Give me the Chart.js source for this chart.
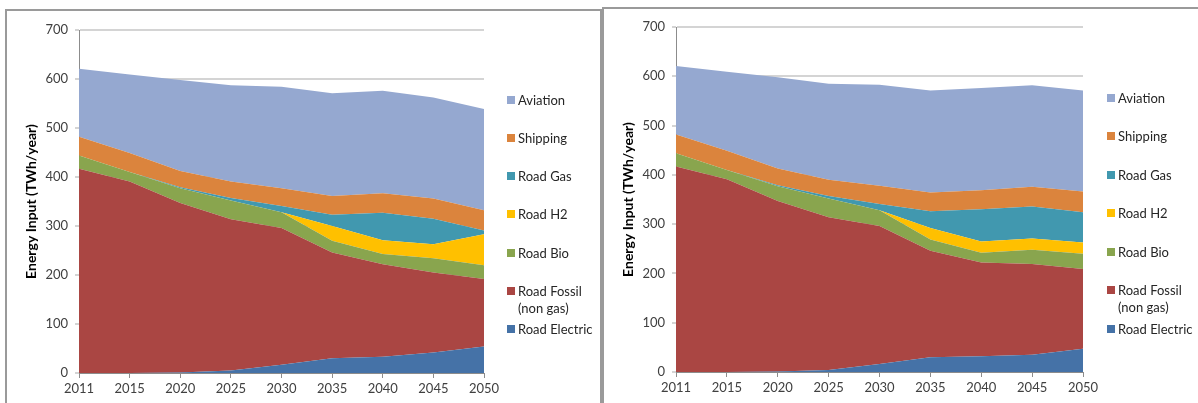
<!DOCTYPE html>
<html>
<head>
<meta charset="utf-8">
<script src="https://cdn.jsdelivr.net/npm/chart.js@4"></script>
<style>
    body { margin: 0; background: #fff; width: 1198px; height: 403px; overflow: hidden; position: relative; font-family: Lato, "Liberation Sans", sans-serif; }
    .panel { position: absolute; border: 2px solid #9a9a9a; border-bottom: none; box-sizing: border-box; }
    .wrap { position: absolute; }
    .legend { position: absolute; font-size: 13px; color: #262626; }
    .legend .item { position: absolute; left: 0; white-space: pre; line-height: 17px; }
    .legend .box { position: absolute; width: 8px; height: 8px; left: -11px; top: 4px; }
</style>
</head>
<body>
<div class="panel" style="left:5px; top:9px; width:597px; height:400px;"></div>
<div class="panel" style="left:602px; top:7px; width:610px; height:400px;"></div>
<div class="wrap" style="left:6px; top:9px; width:594px; height:394px;"><canvas id="chartLeft"></canvas></div>
<div class="wrap" style="left:603px; top:7px; width:595px; height:396px;"><canvas id="chartRight"></canvas></div>
<div class="legend" id="legendLeft" style="left:518px; top:0;"></div>
<div class="legend" id="legendRight" style="left:1118px; top:0;"></div>
<script>
// Categories
const years = ['2011', '2015', '2020', '2025', '2030', '2035', '2040', '2045', '2050'];

// Series, bottom of the stack first
const seriesNames = ['Road Electric', 'Road Fossil\n(non gas)', 'Road Bio', 'Road H2', 'Road Gas', 'Shipping', 'Aviation'];
const seriesColors = ['#4572A7', '#AA4643', '#89A54E', '#FFC000', '#4198AF', '#DB843D', '#95A8D0'];

// Left chart (TWh/year)
const leftElectric = [0, 0, 1, 5, 17, 30, 33, 42, 54];
const leftFossil   = [417, 391, 346, 309, 279, 216, 189, 163, 138];
const leftBio      = [27, 19, 30, 38, 32, 24, 21, 29, 28];
const leftH2       = [0, 0, 0, 0, 0, 30, 28, 29, 63];
const leftGas      = [0, 0, 2, 5, 13, 23, 56, 52, 8];
const leftShipping = [38, 39, 33, 34, 36, 38, 40, 41, 41];
const leftAviation = [139, 160, 186, 196, 207, 210, 209, 206, 207];

// Right chart (TWh/year)
const rightElectric = [0, 0, 1, 4, 16, 30, 32, 35, 47];
const rightFossil   = [417, 391, 346, 310, 280, 216, 190, 184, 162];
const rightBio      = [27, 19, 30, 38, 32, 23, 20, 29, 31];
const rightH2       = [0, 0, 0, 0, 0, 23, 23, 23, 23];
const rightGas      = [0, 0, 2, 5, 13, 34, 65, 65, 61];
const rightShipping = [38, 39, 34, 33, 37, 38, 39, 40, 42];
const rightAviation = [139, 160, 185, 195, 205, 207, 207, 206, 205];

const yTicksMax = 700;
const yTickStep = 100;

const tickFont = { family: 'Lato, "Liberation Sans", sans-serif', size: 13 };

function makeDatasets(series) {
    return series.map((values, i) => ({
        label: seriesNames[i].replace('\n', ' '),
        data: values,
        backgroundColor: seriesColors[i],
        borderWidth: 0,
        pointRadius: 0,
        tension: 0,
        fill: i === 0 ? 'origin' : '-1'
    }));
}

function createChart(elementId, series, pad, yWidth, xHeight) {
    const ctx = document.getElementById(elementId);
    return new Chart(ctx, {
        type: 'line',
        data: { labels: years, datasets: makeDatasets(series) },
        options: {
            responsive: true,
            maintainAspectRatio: false,
            animation: false,
            layout: { padding: pad },
            plugins: {
                legend: { display: false },
                tooltip: { enabled: false }
            },
            scales: {
                x: {
                    offset: false,
                    grid: { drawOnChartArea: false, drawTicks: true, tickLength: 5, color: '#8c8c8c', offset: false },
                    border: { color: '#8c8c8c' },
                    ticks: { font: tickFont, color: '#404040', padding: 3, maxRotation: 0, autoSkip: false },
                    afterFit: (scale) => { scale.height = xHeight; }
                },
                y: {
                    stacked: true,
                    min: 0,
                    max: yTicksMax,
                    grid: { color: '#d4d4d4', lineWidth: 2, tickLength: 4 },
                    border: { color: '#8c8c8c' },
                    ticks: { stepSize: yTickStep, font: tickFont, color: '#404040', padding: 7 },
                    title: {
                        display: true,
                        text: 'Energy Input (TWh/year)',
                        font: { family: 'Lato, "Liberation Sans", sans-serif', size: 14, weight: 'bold' },
                        color: '#000',
                        padding: { top: 17, bottom: 0 }
                    },
                    afterFit: (scale) => { scale.width = yWidth; }
                }
            }
        }
    });
}

function buildLegend(elementId, firstY, step) {
    const el = document.getElementById(elementId);
    const order = seriesNames.map((n, i) => i).reverse();
    order.forEach((idx, k) => {
        const item = document.createElement('div');
        item.className = 'item';
        item.style.top = (firstY + k * step - 8.5) + 'px';
        item.textContent = seriesNames[idx];
        const box = document.createElement('span');
        box.className = 'box';
        box.style.background = seriesColors[idx];
        item.appendChild(box);
        el.appendChild(item);
    });
}

createChart('chartLeft',
    [leftElectric, leftFossil, leftBio, leftH2, leftGas, leftShipping, leftAviation],
    { top: 21, right: 116, left: 0, bottom: 0 }, 73, 30);
createChart('chartRight',
    [rightElectric, rightFossil, rightBio, rightH2, rightGas, rightShipping, rightAviation],
    { top: 20, right: 115, left: 0, bottom: 0 }, 73, 31);

buildLegend('legendLeft', 100, 38.3);
buildLegend('legendRight', 98, 38.5);
</script>
</body>
</html>
